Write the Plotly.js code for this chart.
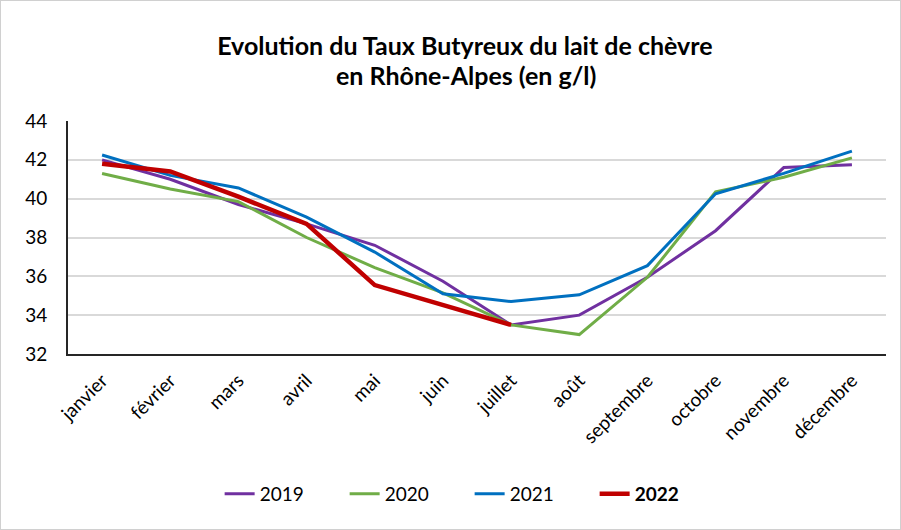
<!DOCTYPE html>
<html>
<head>
<meta charset="utf-8">
<script src="https://cdn.plot.ly/plotly-3.0.1.min.js"></script>
<style>
html,body{margin:0;padding:0;background:#fff;}
#chart{width:899px;height:528px;border:1px solid #d0d0d0;}
</style>
</head>
<body>
<div id="chart"></div>
<script>
var months = ["janvier","février","mars","avril","mai","juin","juillet","août","septembre","octobre","novembre","décembre"];
var tb2019 = [42.0, 41.0, 39.7, 38.7, 37.6, 35.75, 33.5, 34.0, 35.95, 38.35, 41.6, 41.75];
var tb2020 = [41.3, 40.5, 39.85, 38.0, 36.45, 35.15, 33.5, 33.0, 35.95, 40.35, 41.1, 42.1];
var tb2021 = [42.25, 41.2, 40.55, 39.05, 37.25, 35.1, 34.7, 35.05, 36.55, 40.25, 41.3, 42.45];
var tb2022 = [41.8, 41.4, 40.1, 38.7, 35.55, 34.5, 33.5];
var yTicks = [32, 34, 36, 38, 40, 42, 44];

var font = "Lato, 'Open Sans', sans-serif";

var traces = [
  {x: months, y: tb2019, name: "2019", type: "scatter", mode: "lines", line: {color: "#7030A0", width: 3}},
  {x: months, y: tb2020, name: "2020", type: "scatter", mode: "lines", line: {color: "#70AD47", width: 3}},
  {x: months, y: tb2021, name: "2021", type: "scatter", mode: "lines", line: {color: "#0070C0", width: 3}},
  {x: months.slice(0, tb2022.length), y: tb2022, name: "<b>2022</b>", type: "scatter", mode: "lines", line: {color: "#C00000", width: 4.5}}
];

var layout = {
  width: 899, height: 528,
  margin: {l: 67, r: 14, t: 120, b: 175},
  paper_bgcolor: "#ffffff",
  plot_bgcolor: "#ffffff",
  font: {family: font, size: 19, color: "#000000"},
  title: {
    text: "<b>Evolution du Taux Butyreux du lait de chèvre</b>",
    font: {family: font, size: 25, color: "#000000"},
    x: 0.516, xanchor: "center", xref: "container",
    y: 0.915, yanchor: "middle", yref: "container"
  },
  annotations: [{
    text: "<b>en Rhône-Alpes (en g/l)</b>",
    font: {family: font, size: 25, color: "#000000"},
    xref: "paper", yref: "paper", x: 0.486, y: 1.196,
    xanchor: "center", yanchor: "middle", showarrow: false
  }],
  xaxis: {
    type: "category",
    range: [-0.5, 11.5],
    tickangle: -45,
    tickfont: {family: font, size: 19, color: "#000000"},
    showgrid: false,
    showline: true, linecolor: "#262626", linewidth: 2,
    ticks: "", zeroline: false,
    ticklabelstandoff: 6
  },
  yaxis: {
    range: [32, 44],
    tickvals: yTicks,
    ticktext: yTicks.map(String),
    tickfont: {family: font, size: 19, color: "#000000"},
    showgrid: true, gridcolor: "#d9d9d9", gridwidth: 2,
    showline: true, linecolor: "#262626", linewidth: 2,
    ticks: "", zeroline: false,
    ticklabelstandoff: 15
  },
  showlegend: true,
  legend: {
    orientation: "h",
    x: 0.491, xanchor: "center",
    y: -0.6, yanchor: "middle",
    font: {family: font, size: 19, color: "#000000"},
    entrywidth: 80,
    traceorder: "normal"
  }
};

Plotly.newPlot("chart", traces, layout, {displayModeBar: false, staticPlot: true});
</script>
</body>
</html>
